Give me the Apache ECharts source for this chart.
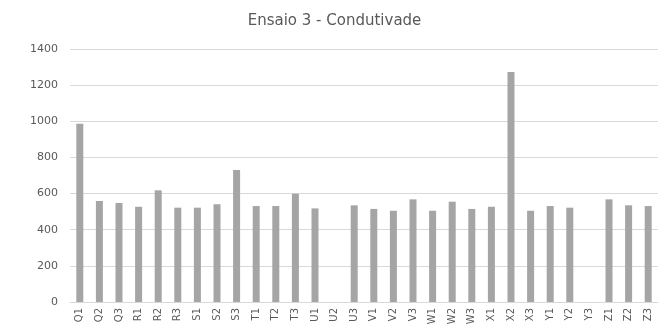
<!DOCTYPE html>
<html><head><meta charset="utf-8">
<script src="https://cdn.jsdelivr.net/npm/echarts@6/dist/echarts.min.js"></script>
<style>html,body{margin:0;padding:0;background:#fff}#c{width:669px;height:335px}</style>
</head><body><div id="c"></div>
<script>
const categories = ['Q1','Q2','Q3','R1','R2','R3','S1','S2','S3','T1','T2','T3','U1','U2','U3','V1','V2','V3','W1','W2','W3','X1','X2','X3','Y1','Y2','Y3','Z1','Z2','Z3'];
const values = [987,559,548,527,618,522,522,541,730,531,531,599,518,null,535,515,505,568,505,555,515,527,1273,505,531,522,null,568,535,531];
const yTicks = [0,200,400,600,800,1000,1200,1400];
const chart = echarts.init(document.getElementById('c'), null, {renderer:'canvas'});
const font = "'DejaVu Sans', sans-serif";
chart.setOption({
  animation:false,
  title:{text:'Ensaio 3 - Condutivade', left:'center', top:9,
    textStyle:{fontFamily:font, fontSize:15, fontWeight:'normal', color:'#595959'}},
  grid:{left:70, right:11, top:49, bottom:33, containLabel:false},
  xAxis:{type:'category', data:categories,
    axisLine:{lineStyle:{color:'#d9d9d9'}}, axisTick:{show:false},
    axisLabel:{rotate:90, interval:0, fontFamily:font, fontSize:10, color:'#595959', margin:6}},
  yAxis:{type:'value', min:yTicks[0], max:yTicks[yTicks.length-1], interval:200,
    axisLine:{show:false}, axisTick:{show:false},
    splitLine:{lineStyle:{color:'#d9d9d9'}},
    axisLabel:{fontFamily:font, fontSize:11, color:'#595959', margin:12, formatter:v=>String(v)}},
  series:[{type:'bar', data:values, barWidth:7, itemStyle:{color:'#a5a5a5'}}]
});
</script></body></html>
